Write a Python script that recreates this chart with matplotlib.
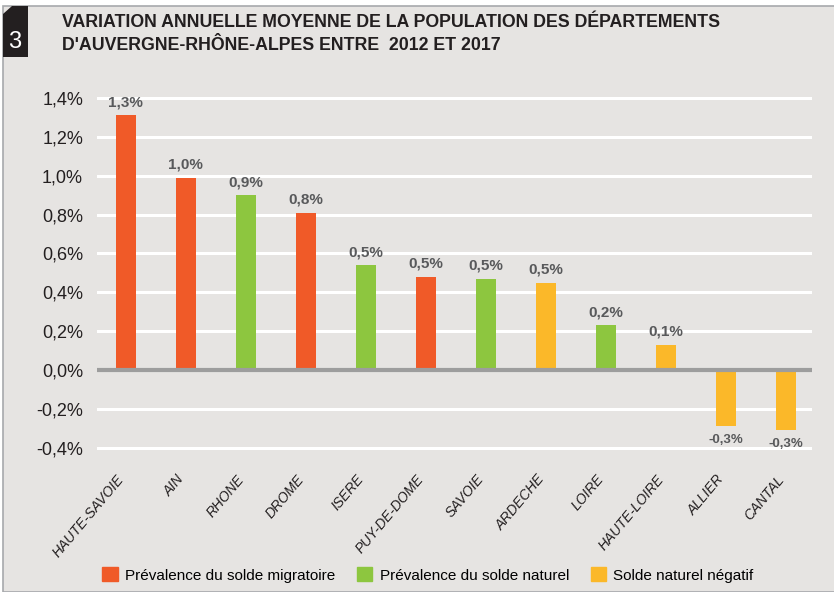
import matplotlib.pyplot as plt
import matplotlib.transforms as mtransforms
from matplotlib.patches import Polygon, Rectangle

departements = ["HAUTE-SAVOIE", "AIN", "RHONE", "DROME", "ISERE", "PUY-DE-DOME",
                "SAVOIE", "ARDECHE", "LOIRE", "HAUTE-LOIRE", "ALLIER", "CANTAL"]
variation = [1.31, 0.99, 0.90, 0.81, 0.54, 0.48, 0.47, 0.45, 0.23, 0.13, -0.29, -0.31]
etiquettes = ["1,3%", "1,0%", "0,9%", "0,8%", "0,5%", "0,5%", "0,5%", "0,5%", "0,2%", "0,1%", "-0,3%", "-0,3%"]
groupe = [0, 0, 1, 0, 1, 0, 1, 2, 1, 2, 2, 2]
legende = ["Prévalence du solde migratoire", "Prévalence du solde naturel", "Solde naturel négatif"]
yticks = [-0.4, -0.2, 0.0, 0.2, 0.4, 0.6, 0.8, 1.0, 1.2, 1.4]

couleurs = ["#f05a28", "#8dc63f", "#fbb829"]
fond = "#e6e4e2"
texte = "#231f20"
gris = "#58595b"

plt.rcParams['font.family'] = ['Liberation Sans', 'DejaVu Sans']

fig = plt.figure(figsize=(8.34, 5.92), dpi=100, facecolor="white")
# fond gris du cadre
fig.patches.append(Rectangle((3 / 834, 0), 1, 1 - 6 / 592, transform=fig.transFigure,
                             facecolor=fond, edgecolor="#a7a9ac", lw=1.2, zorder=-5))
# pastille numéro
fig.patches.append(Polygon([(3 / 834, 1 - 14 / 592), (12 / 834, 1 - 6 / 592), (28 / 834, 1 - 6 / 592),
                            (28 / 834, 1 - 57 / 592), (3 / 834, 1 - 57 / 592)],
                           closed=True, transform=fig.transFigure, facecolor="#231f20", zorder=-4))
fig.text(15 / 834, 1 - 42 / 592, "3", color="white", fontsize=17, ha="center", va="center")
fig.text(62 / 834, 1 - 34 / 592,
         "VARIATION ANNUELLE MOYENNE DE LA POPULATION DES DÉPARTEMENTS\nD'AUVERGNE-RHÔNE-ALPES ENTRE  2012 ET 2017",
         fontsize=12.8, fontweight="bold", color=texte, ha="left", va="center", linespacing=1.45)

ax = fig.add_axes([97 / 834, 0.2372, (812 - 97) / 834, 0.6038])
ax.set_facecolor(fond)
ax.patch.set_alpha(0)
x = list(range(len(departements)))
ax.bar(x, variation, width=0.34, color=[couleurs[g] for g in groupe], zorder=2)
ax.axhline(0, color="#9d9d9d", lw=3, zorder=3)
for yt in yticks:
    if yt != 0:
        ax.axhline(yt, color="white", lw=2.2, zorder=1)

for xi, v, lab in zip(x, variation, etiquettes):
    if v >= 0:
        ax.text(xi, v + 0.03, lab, ha="center", va="bottom", fontsize=11,
                fontweight="bold", color=gris)
    else:
        ax.text(xi, v - 0.04, lab, ha="center", va="top", fontsize=9.5,
                fontweight="bold", color=gris)

ax.set_xlim(-0.48, 11.43)
ax.set_ylim(-0.42, 1.42)
ax.set_yticks(yticks)
ax.set_yticklabels([("%.1f%%" % t).replace(".", ",") for t in yticks], fontsize=13, color=texte)
ax.set_xticks(x)
ax.set_xticklabels(departements, rotation=50, ha="right", rotation_mode="anchor",
                   fontsize=10, color=texte, style="italic")
ax.tick_params(axis="both", length=0)
ax.tick_params(axis="y", pad=10)
ax.tick_params(axis="x", pad=15)
decalage = mtransforms.ScaledTranslation(-7 / 72, 0, fig.dpi_scale_trans)
for lbl in ax.get_xticklabels():
    lbl.set_transform(lbl.get_transform() + decalage)
for s in ax.spines.values():
    s.set_visible(False)

poignees = [Rectangle((0, 0), 1, 1, color=c) for c in couleurs]
fig.legend(poignees, legende, loc="center", bbox_to_anchor=(428 / 834, 1 - 575 / 592), ncol=3,
           frameon=False, fontsize=11, handlelength=1.0, handleheight=1.0, handletextpad=0.5,
           columnspacing=1.4)

fig.savefig("out.png", dpi=100, facecolor=fig.get_facecolor())
